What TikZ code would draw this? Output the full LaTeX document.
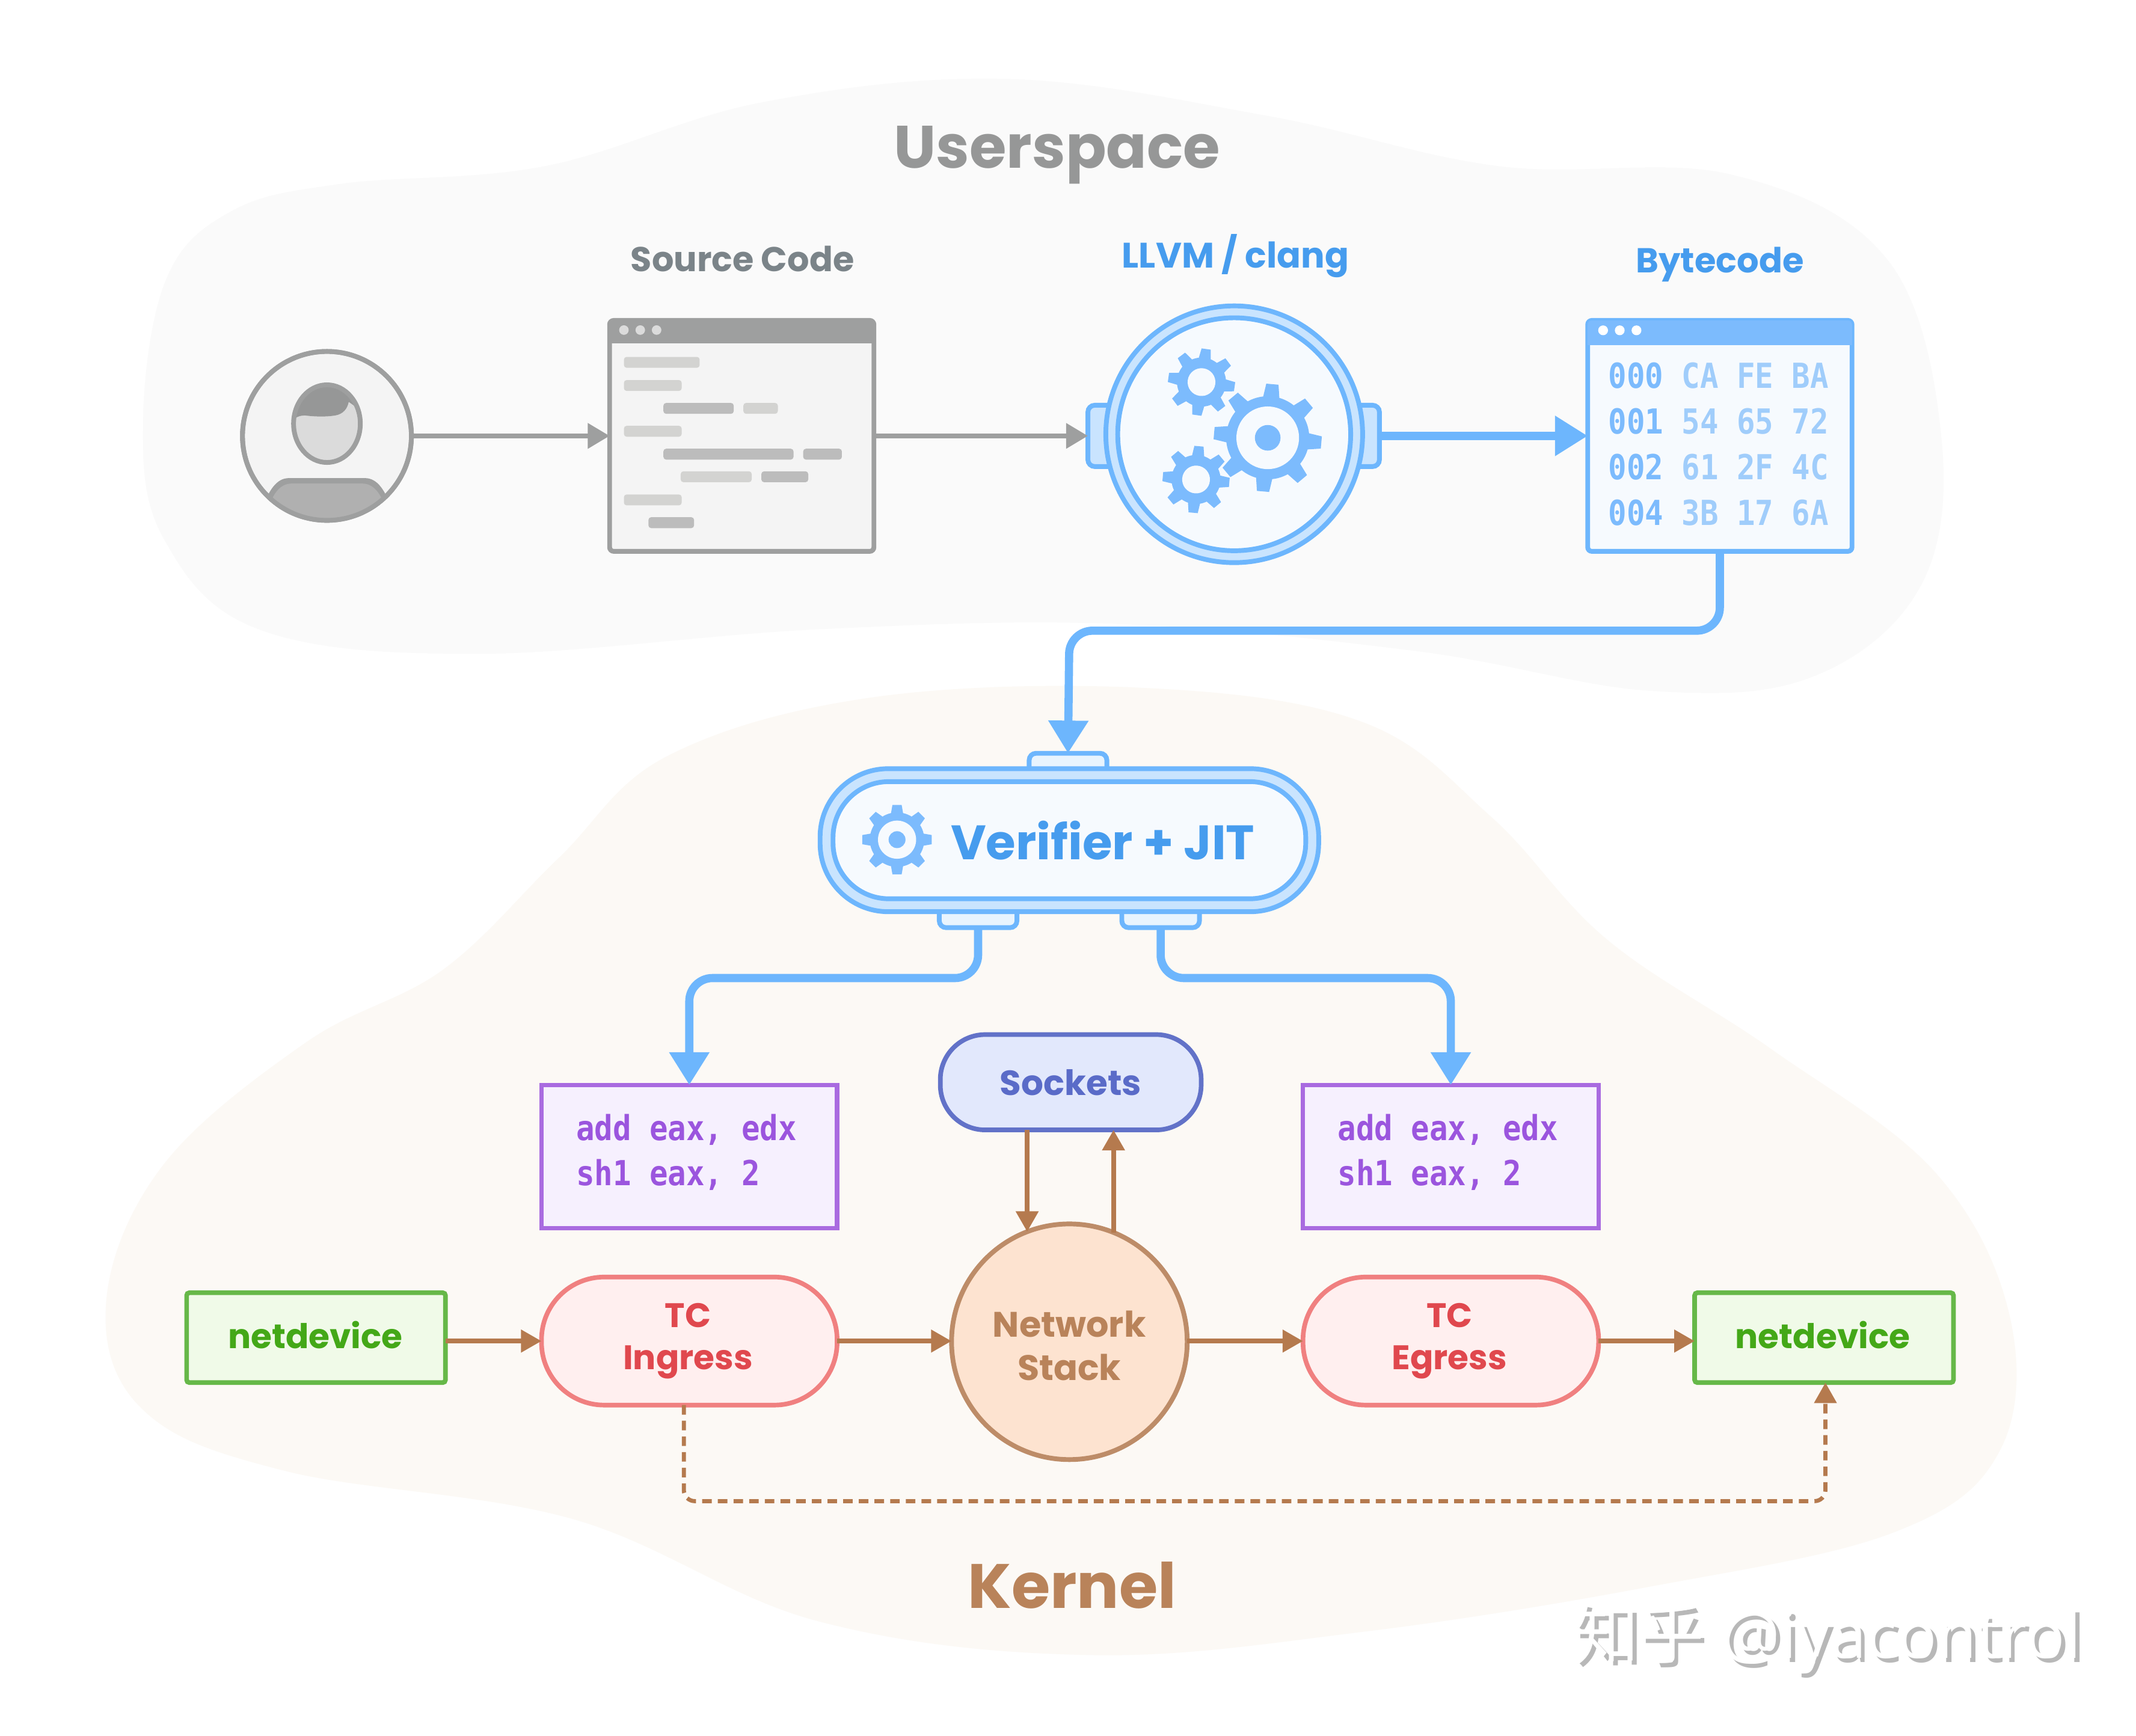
\documentclass[tikz,border=0pt]{standalone}
\usepackage{fontspec}
\setmainfont{Poppins}
\newfontfamily\monof[FakeStretch=.885]{DejaVu Sans Mono}
\newfontfamily\cjkf{Noto Sans CJK SC}
\newfontfamily\wmf{Open Sans}
\usetikzlibrary{arrows.meta,calc}
\definecolor{gline}{HTML}{9E9F9F}
\definecolor{gfill}{HTML}{F4F4F4}
\definecolor{glight}{HTML}{D3D3D1}
\definecolor{gdark}{HTML}{BCBCBC}
\definecolor{bline}{HTML}{6DB6FD}
\definecolor{bbar}{HTML}{7CBBFD}
\definecolor{bring}{HTML}{C9E4FE}
\definecolor{bin}{HTML}{F6FAFE}
\definecolor{btab}{HTML}{E8F4FE}
\definecolor{btext}{HTML}{469CEE}
\definecolor{blight}{HTML}{A0CDFB}
\definecolor{pline}{HTML}{A96BE0}
\definecolor{pfill}{HTML}{F6F0FE}
\definecolor{ptext}{HTML}{9B55DE}
\definecolor{sline}{HTML}{6272C8}
\definecolor{sfill}{HTML}{E2E8FC}
\definecolor{stext}{HTML}{5A6BC8}
\definecolor{brn}{HTML}{B57A4E}
\definecolor{ntext}{HTML}{B9835A}
\definecolor{nline}{HTML}{BD8C68}
\definecolor{nfill}{HTML}{FDE3D0}
\definecolor{rline}{HTML}{F08080}
\definecolor{rfill}{HTML}{FFEFEF}
\definecolor{rtext}{HTML}{E0484E}
\definecolor{lline}{HTML}{66B848}
\definecolor{lfill}{HTML}{F0FAE8}
\definecolor{ltext}{HTML}{44A818}
\definecolor{userbg}{HTML}{FAFAFA}
\definecolor{kernbg}{HTML}{FCF9F5}
\definecolor{stitle}{HTML}{7B8489}
\tikzset{
  x=1pt,y=-1pt,
  every node/.style={outer sep=0pt,inner sep=0pt},
  lbl/.style={font=\bfseries\fontsize{#1}{#1}\selectfont},
  gbar/.style={fill=#1,rounded corners=2},
  win/.style={draw,line width=3.5,rounded corners=3,minimum width=194,minimum height=169.5},
  grayarrow/.style={draw=gline,line width=3.4,-{Triangle[length=16,width=18]}},
  bluearrow/.style={draw=bline,line width=6,-{Triangle[length=24,width=28]},rounded corners=17},
  brnarrow/.style={draw=brn,line width=3.4,-{Triangle[length=15,width=16]}},
  tab/.style={draw=bline,fill=#1,line width=3.5,rounded corners=5},
  codebox/.style={draw=pline,fill=pfill,line width=3.2,minimum width=217,minimum height=105},
  codetext/.style={text=ptext,font=\monof\bfseries\fontsize{25.3}{33}\selectfont,text width=166,align=left},
  hexrow/.style={text=blight,font=\monof\bfseries\fontsize{25.3}{25}\selectfont},
  pill/.style={draw=rline,fill=rfill,line width=3.4,minimum width=217,minimum height=94,rounded corners=46},
  pilltext/.style={text=rtext,font=\bfseries\fontsize{25}{31}\selectfont,align=center},
  netd/.style={draw=lline,fill=lfill,line width=3.4,minimum width=190,minimum height=66,rounded corners=2},
  netdtext/.style={text=ltext,font=\bfseries\fontsize{25}{31}\selectfont},
}
\newcommand{\gearat}[8]{% x y body outer hole n rot toothw
  \begin{scope}[shift={(#1,#2)},rotate=#7]
    \fill[bbar] (0,0) circle (#3);
    \pgfmathsetmacro{\gstep}{360/#6}
    \foreach \gi in {1,...,#6}{
      \fill[bbar,rotate=\gi*\gstep] (#3-1,-#8) -- (#4,-#8*.75) -- (#4,#8*.75) -- (#3-1,#8) -- cycle;
    }
    \fill[bin] (0,0) circle (#5);
  \end{scope}}
\begin{document}
\begin{tikzpicture}
\useasboundingbox (0,0) rectangle (1568,1274);
\fill[white] (0,0) rectangle (1568,1274);
% region blobs
\fill[userbg] plot[smooth cycle,tension=.62] coordinates {(105,310)(122,205)(170,155)(250,135)(400,122)(560,75)(740,58)(930,85)(1100,122)(1270,128)(1385,190)(1425,320)(1410,430)(1330,497)(1210,507)(1040,478)(820,458)(600,462)(350,480)(190,462)(120,395)};
\fill[kernbg] plot[smooth cycle,tension=.62] coordinates {(78,955)(120,855)(225,765)(325,712)(410,630)(490,555)(640,512)(840,505)(1000,530)(1095,600)(1180,690)(1300,770)(1420,860)(1475,965)(1468,1065)(1390,1125)(1210,1165)(1000,1198)(800,1215)(600,1190)(420,1115)(210,1080)(105,1035)};
% titles
\node[lbl=44,text=gline!95!black] (tuser) at (776,114) {Userspace};
\node[lbl=25.3,text=stitle] (tsrc) at (545,190) {Source Code};
\node[lbl=26,text=btext] (tllvm) at (907,188) {LLVM / clang};
\node[lbl=25.4,text=btext] (tbyte) at (1262.5,194) {Bytecode};
\node[lbl=46,text=ntext] (tkern) at (787,1164) {Kernel};
% user
\node[circle,draw=gline,fill=gfill,line width=3.5,minimum size=124] (user) at (240,320) {};
\begin{scope}
  \clip (user.center) circle (62);
  \fill[gline] (192,375) .. controls (197,360) and (203,351) .. (212,351) -- (268,351) .. controls (277,351) and (283,360) .. (288,375) -- (288,395) -- (192,395) -- cycle;
  \fill[black!31] (196,376) .. controls (200,362) and (206,355) .. (214,355) -- (266,355) .. controls (274,355) and (280,362) .. (284,376) -- (284,395) -- (196,395) -- cycle;
\end{scope}
\draw[gline,line width=3.5] (user.center) circle (62);
\fill[black!14] (240,311) ellipse [x radius=24.5,y radius=28.5];
\begin{scope}
  \clip (240,311) ellipse [x radius=24.5,y radius=28.5];
  \fill[gline!95!black] (212,312) .. controls (216,306) and (220,305) .. (224,305) .. controls (232,306) and (240,306) .. (246,305) .. controls (252,304) and (255,300) .. (256,295) -- (270,305) -- (270,275) -- (210,275) -- cycle;
\end{scope}
\draw[gline,line width=3.5] (240,311) ellipse [x radius=24.5,y radius=28.5];
% source window
\node[win,draw=gline,fill=gfill] (src) at (544.5,320) {};
\fill[gline,rounded corners=3] (src.north west) rectangle ([yshift=-8]src.north east);
\fill[gline] ([yshift=-3]src.north west) rectangle ([yshift=-17]src.north east);
\foreach \cx in {458,470,482} \fill[black!14] (\cx,242.3) circle (3.5);
\foreach \xa/\xb/\ya/\cc in {458/513.6/262/glight,458/500.4/279/glight,487/538.6/295.8/gdark,545.7/571/295.8/glight,458/500.4/312.6/glight,487/582.5/329.4/gdark,589.6/618/329.4/gdark,499.7/551.8/346/glight,558.9/593.3/346/gdark,458/500.4/363/glight,476/509.5/379.7/gdark}
  \fill[gbar=\cc] (\xa,\ya) rectangle (\xb,\ya+8);
% LLVM
\node[tab=bring,minimum width=214,minimum height=45] (ltabs) at (905.6,320) {};
\node[circle,draw=bline,fill=bring,line width=3.5,minimum size=188.5] (llvm) at (906,318.8) {};
\node[circle,draw=bline,fill=bin,line width=3.5,minimum size=171] (llvmin) at (906,318.8) {};
\gearat{930.6}{321.4}{30.5}{39.5}{23}{8}{-5}{6}
\fill[bbar] (930.6,321.4) circle (9.4);
\gearat{882}{280.5}{18}{24.5}{10.2}{8}{-8}{4.5}
\gearat{878}{352}{18}{24.5}{10.2}{8}{-5}{4.5}
% bytecode
\node[win,draw=bline,fill=bin] (byte) at (1262.5,320) {};
\fill[bbar,rounded corners=3] (byte.north west) rectangle ([yshift=-8]byte.north east);
\fill[bbar] ([yshift=-3]byte.north west) rectangle ([yshift=-18]byte.north east);
\foreach \cx in {1176.8,1189,1201.3} \fill[white] (\cx,242.5) circle (3.6);
\node[hexrow] (r0) at (1261.5,275.6) {\textcolor{bbar}{000} CA FE BA};
\node[hexrow] (r1) at (1261.5,309.2) {\textcolor{bbar}{001} 54 65 72};
\node[hexrow] (r2) at (1261.5,342.7) {\textcolor{bbar}{002} 61 2F 4C};
\node[hexrow] (r3) at (1261.5,376.2) {\textcolor{bbar}{004} 3B 17 6A};
% verifier
\node[tab=btab,minimum width=57,minimum height=22] (tabT) at (784,564) {};
\node[tab=btab,minimum width=57,minimum height=22] (tabL) at (718,670) {};
\node[tab=btab,minimum width=57,minimum height=22] (tabR) at (852,670) {};
\node[draw=bline,fill=bring,line width=3.5,minimum width=366,minimum height=105,rounded corners=50] (ver) at (785,616.8) {};
\node[draw=bline,fill=bin,line width=3.5,minimum width=347,minimum height=86,rounded corners=41] (verin) at (785,616.8) {};
\node[text=btext,font=\bfseries\fontsize{35.5}{35.5}\selectfont] (vertext) at (809.5,617) {Verifier + JIT};
\gearat{658.5}{616.4}{20}{25.5}{14}{8}{0}{4.5}
\fill[bbar] (658.5,616.4) circle (6.2);
% lower boxes
\node[codebox] (codeL) at (506,849) {};
\node[codetext] (ctL) at (506,846) {\spaceskip=0pt\relax add eax, edx\\\spaceskip=0pt\relax sh1 eax, 2};
\node[codebox] (codeR) at (1065,849) {};
\node[codetext] (ctR) at (1065,846) {\spaceskip=0pt\relax add eax, edx\\\spaceskip=0pt\relax sh1 eax, 2};
\node[draw=sline,fill=sfill,line width=3.4,minimum width=191.5,minimum height=70,rounded corners=33,text=stext,font=\bfseries\fontsize{25.6}{25}\selectfont] (sock) at (786,794.5) {Sockets};
\node[circle,draw=nline,fill=nfill,line width=3.5,minimum size=173] (net) at (785,985) {};
\node[text=ntext,align=center,font=\bfseries\fontsize{26}{32}\selectfont] (nettext) at (785,988) {Network\\Stack};
\node[pill] (ing) at (506,984.5) {};
\node[pilltext] (ingt) at (505,984.5) {TC\\Ingress};
\node[pill] (egr) at (1065,984.5) {};
\node[pilltext] (egrt) at (1064,984.5) {TC\\Egress};
\node[netd] (ndL) at (232,982) {};
\node[netdtext] (ndLt) at (231.5,980) {netdevice};
\node[netd] (ndR) at (1339,982) {};
\node[netdtext] (ndRt) at (1338,980) {netdevice};
% connectors
\draw[grayarrow] (user.east) -- (src.west);
\draw[grayarrow] (src.east) -- (ltabs.west);
\draw[bluearrow] (ltabs.east) -- (byte.west);
\coordinate (m1) at (785,463);
\draw[bluearrow] (byte.south) -- (byte.south |- m1) -- (m1) -- (tabT.north);
\coordinate (m2) at (506,718);
\coordinate (m3) at (1065,718);
\draw[bluearrow] (tabL.south) -- (tabL.south |- m2) -- (m2) -- (codeL.north);
\draw[bluearrow] (tabR.south) -- (tabR.south |- m3) -- (m3) -- (codeR.north);
\draw[brnarrow] (ndL.east |- ing.west) -- (ing.west);
\draw[brnarrow] (ing.east) -- (net.west |- ing.east);
\draw[brnarrow] (net.east |- egr.west) -- (egr.west);
\draw[brnarrow] (egr.east) -- (ndR.west |- egr.east);
\coordinate (na) at (net.111.7);
\coordinate (nb) at (net.68.3);
\draw[brnarrow] (sock.south -| na) -- (na);
\draw[brnarrow] (nb) -- (sock.south -| nb);
\coordinate (m4) at (1340,1102);
\coordinate (m5) at (502,1102);
\draw[brnarrow,line width=3,dash pattern=on 7pt off 4.5pt,rounded corners=8] (ing.south -| m5) -- (m5) -- (m4) -- (ndR.south -| m4);
% watermark
\node[anchor=west,text=black!28,font=\fontsize{48}{48}\selectfont] (wm) at (1158,1206) {{\cjkf 知乎} {\wmf @iyacontrol}};
\node[anchor=west,text=white,font=\fontsize{48}{48}\selectfont] (wm2) at (1155,1203) {{\cjkf 知乎} {\wmf @iyacontrol}};
\end{tikzpicture}
\end{document}
